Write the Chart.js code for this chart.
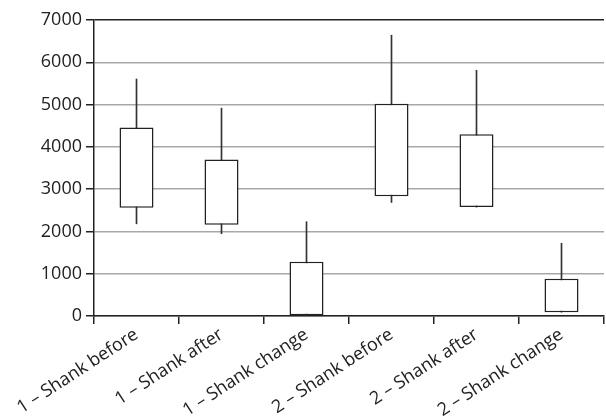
<!DOCTYPE html>
<html>
<head>
<meta charset="utf-8">
<script src="https://cdn.jsdelivr.net/npm/chart.js@4/dist/chart.umd.min.js"></script>
<style>
  html, body { margin: 0; padding: 0; background: #fff; }
  #wrap { width: 606px; height: 419px; }
</style>
</head>
<body>
<div id="wrap"><canvas id="chart"></canvas></div>
<script>
const categories = ['1 – Shank before', '1 – Shank after', '1 – Shank change',
                    '2 – Shank before', '2 – Shank after', '2 – Shank change'];
const boxLow = [2560, 2155, 0, 2830, 2575, 90];
const boxHigh = [4460, 3700, 1280, 5020, 4300, 880];
const whiskerLow = [2180, 1945, 0, 2685, 2575, 90];
const whiskerHigh = [5605, 4915, 2230, 6640, 5810, 1720];
const yTicks = [0, 1000, 2000, 3000, 4000, 5000, 6000, 7000];

const ink = '#222';
const font = { family: 'Open Sans', size: 18 };

new Chart(document.getElementById('chart'), {
    type: 'bar',
    data: {
        labels: categories,
        datasets: [
            {
                label: 'box',
                data: boxLow.map((v, i) => [v, boxHigh[i]]),
                backgroundColor: '#fff',
                borderColor: ink,
                borderWidth: 1.5,
                borderSkipped: false,
                barPercentage: 0.4,
                categoryPercentage: 1,
                grouped: false,
                order: 0
            },
            {
                label: 'whisker',
                data: whiskerLow.map((v, i) => [v, whiskerHigh[i]]),
                backgroundColor: '#333',
                borderWidth: 0,
                barThickness: 1,
                grouped: false,
                order: 1
            }
        ]
    },
    options: {
        responsive: true,
        maintainAspectRatio: false,
        animation: false,
        layout: { padding: { top: 20, right: 2, left: 0, bottom: 0 } },
        plugins: { legend: { display: false }, tooltip: { enabled: false } },
        scales: {
            x: {
                afterFit: s => { s.height = 103; },
                grid: {
                    offset: true,
                    color: c => c.index === categories.length ? ink : 'rgba(0,0,0,0)',
                    tickColor: ink,
                    tickLength: 8,
                    lineWidth: 1.5
                },
                border: { color: ink, width: 1.5 },
                ticks: {
                    color: ink,
                    font: font,
                    minRotation: 33,
                    maxRotation: 33,
                    padding: 0
                }
            },
            y: {
                min: 0,
                max: 7000,
                afterFit: s => { s.width = 94; },
                afterBuildTicks: s => { s.ticks = yTicks.map(v => ({ value: v })); },
                grid: {
                    color: c => c.tick && c.tick.value === 7000 ? ink : '#a8a8a8',
                    tickColor: ink,
                    tickLength: 8,
                    lineWidth: 1.5
                },
                border: { color: ink, width: 1.5 },
                ticks: {
                    color: ink,
                    font: font,
                    padding: 4,
                    callback: v => String(v)
                }
            }
        }
    }
});
</script>
</body>
</html>
